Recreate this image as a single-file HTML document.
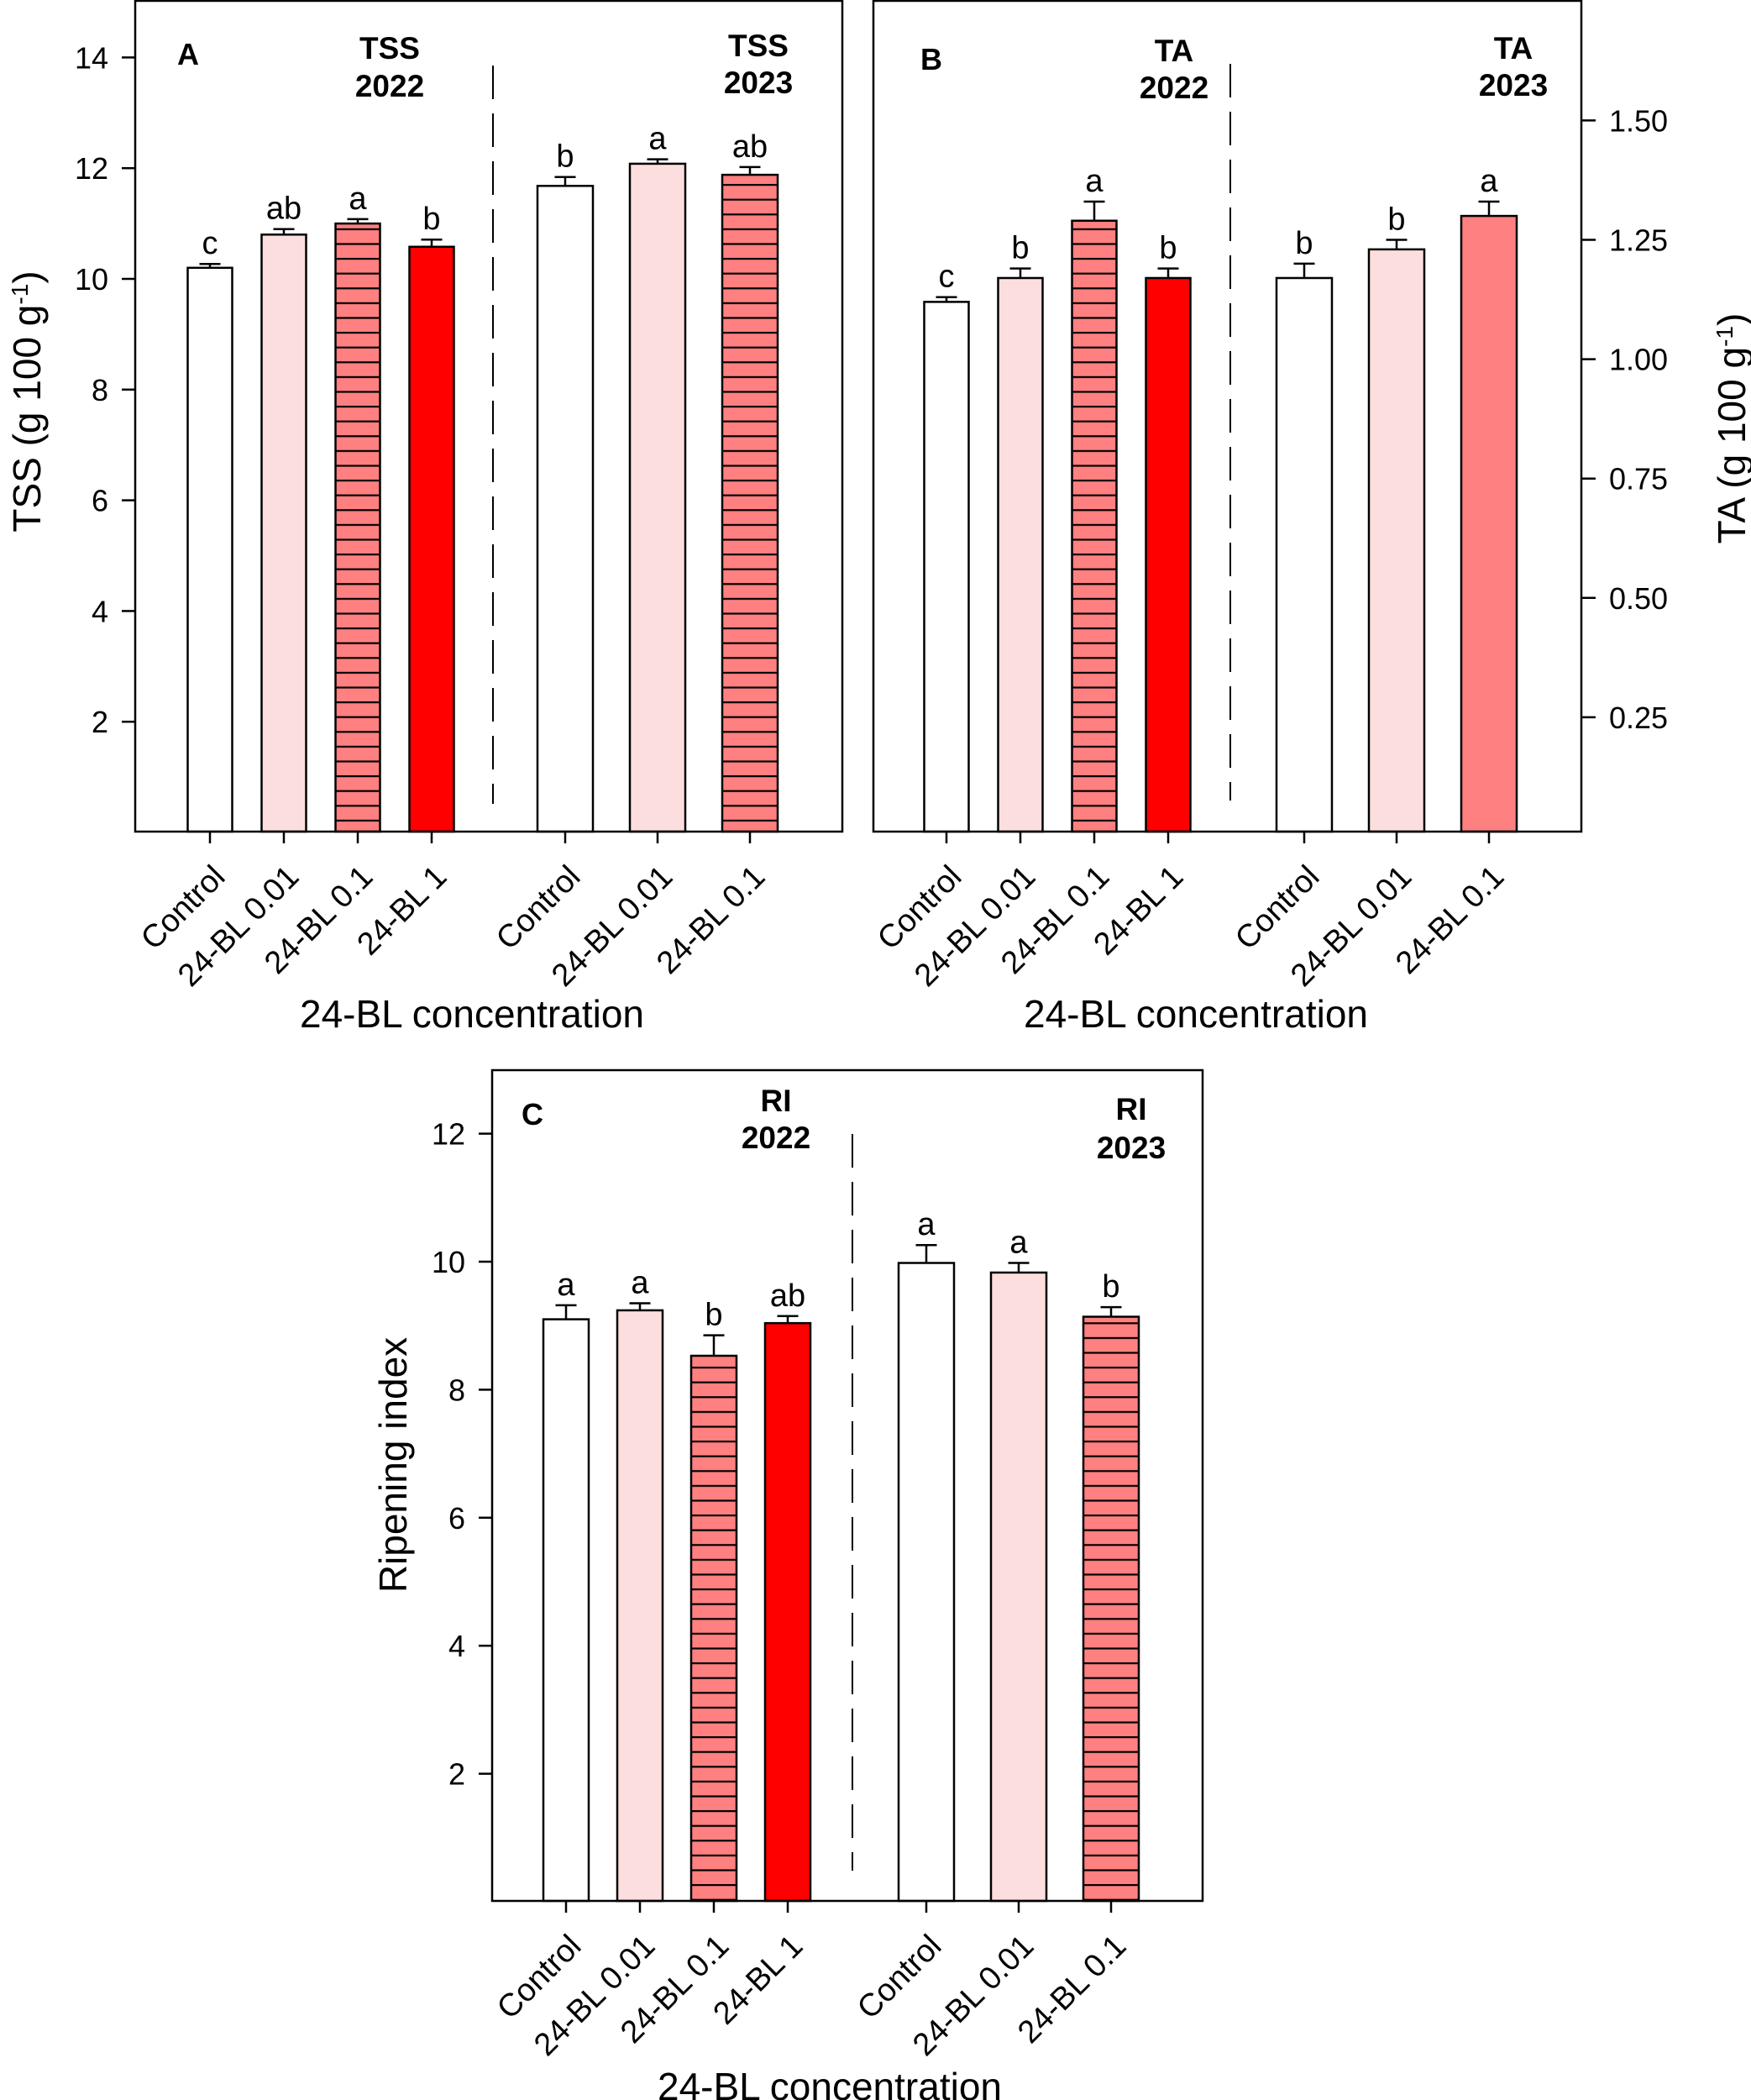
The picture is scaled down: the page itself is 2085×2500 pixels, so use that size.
<!DOCTYPE html>
<html><head><meta charset="utf-8"><style>
html,body{margin:0;padding:0;background:#fff;}
svg{display:block;font-family:"Liberation Sans",Arial,sans-serif;}
</style></head><body>
<svg id="fig" width="2085" height="2500" viewBox="0 0 2085 2500" xmlns="http://www.w3.org/2000/svg">
<defs>
<pattern id="hatch" patternUnits="userSpaceOnUse" width="20" height="17.6">
<rect width="20" height="17.6" fill="#FF8080"/>
<rect y="7.8" width="20" height="2.2" fill="#000"/>
</pattern>
</defs>
</svg>
<script>
// ---- data ----
const tssCats = ["Control","24-BL 0.01","24-BL 0.1","24-BL 1","Control","24-BL 0.01","24-BL 0.1"];
const tssMeans = [10.2, 10.8, 11.0, 10.58, 11.68, 12.08, 11.88];
const tssErr = [0.07, 0.1, 0.08, 0.13, 0.16, 0.08, 0.14];
const tssLetters = ["c","ab","a","b","b","a","ab"];
const tssTicks = [2,4,6,8,10,12,14];

const taCats = ["Control","24-BL 0.01","24-BL 0.1","24-BL 1","Control","24-BL 0.01","24-BL 0.1"];
const taMeans = [1.12, 1.17, 1.29, 1.17, 1.17, 1.23, 1.30];
const taErr = [0.01, 0.02, 0.04, 0.02, 0.03, 0.02, 0.03];
const taLetters = ["c","b","a","b","b","b","a"];
const taTicks = [0.25,0.50,0.75,1.00,1.25,1.50];

const riCats = ["Control","24-BL 0.01","24-BL 0.1","24-BL 1","Control","24-BL 0.01","24-BL 0.1"];
const riMeans = [9.1, 9.24, 8.53, 9.04, 9.98, 9.83, 9.14];
const riErr = [0.22, 0.11, 0.32, 0.11, 0.28, 0.15, 0.15];
const riLetters = ["a","a","b","ab","a","a","b"];
const riTicks = [2,4,6,8,10,12];

// ---- drawing ----
const svg = document.getElementById('fig');
const NS = 'http://www.w3.org/2000/svg';
function mk(tag, attrs, parent){
  const e = document.createElementNS(NS, tag);
  for (const k in attrs) e.setAttribute(k, attrs[k]);
  (parent||svg).appendChild(e);
  return e;
}
function txt(str, attrs, parent){
  const e = mk('text', attrs, parent);
  e.textContent = str;
  return e;
}

function panel(p){
  const g = mk('g', {});
  
  
  const y = v => p.y0 - v * p.k;
  const xc = i => i < 4 ? p.c1 + i * p.s1 : p.c2 + (i - 4) * p.s2;
  const bw = i => i < 4 ? p.w1 : p.w2;
  for (let i = 0; i < p.means.length; i++){
    const v = p.means[i], cx = xc(i), w = bw(i);
    const r = mk('rect', {x: cx - w/2, y: y(v), width: w, height: p.bottom - y(v), fill: p.fills[i], stroke: '#000', 'stroke-width': 2.5}, g);
    
    
    const top = y(v + p.err[i]);
    const eb = mk('path', {d: `M${cx},${y(v)}V${top}M${cx-12.5},${top}H${cx+12.5}`, stroke: '#000', 'stroke-width': 2.5, fill: 'none'}, g);
    
    
    const lt = txt(p.letters[i], {x: cx, y: top - 12, 'font-size': 38, 'text-anchor': 'middle'}, g);
    
    
    mk('line', {x1: cx, x2: cx, y1: p.bottom, y2: p.bottom + 14, stroke: '#000', 'stroke-width': 2.5}, g);
    const lx = cx + 20, ly = p.bottom + 56;
    const xl = txt(p.cats[i], {x: lx, y: ly, 'font-size': 38, 'text-anchor': 'end', transform: `rotate(-45 ${lx} ${ly})`}, g);
    
    
  }
  const fr = mk('rect', {x: p.left, y: p.top, width: p.right - p.left, height: p.bottom - p.top, fill: 'none', stroke: '#000', 'stroke-width': 2.5}, g);
  
  
  for (const t of p.ticks){
    const ty = y(t);
    if (p.rightAxis){
      mk('line', {x1: p.right, x2: p.right + 17, y1: ty, y2: ty, stroke: '#000', 'stroke-width': 2.5}, g);
      const tl = txt(p.fmt(t), {x: p.right + 33, y: ty + 13, 'font-size': 36, 'text-anchor': 'start'}, g);
      
      
    } else {
      mk('line', {x1: p.left - 16, x2: p.left, y1: ty, y2: ty, stroke: '#000', 'stroke-width': 2.5}, g);
      const tl = txt(p.fmt(t), {x: p.left - 32, y: ty + 13, 'font-size': 36, 'text-anchor': 'end'}, g);
      
      
    }
  }
  const dl = mk('line', {x1: p.dx, x2: p.dx, y1: p.dy1, y2: p.dy2, stroke: '#000', 'stroke-width': 2, 'stroke-dasharray': '40,17'}, g);
  
  
  const pl = txt(p.letter, {x: p.lx, y: p.ly + 13, 'font-size': 36, 'font-weight': 'bold', 'text-anchor': 'middle'}, g);
  
  
  for (const tt of p.titles){
    const t1 = txt(tt.a, {x: tt.x, y: tt.y1 + 13, 'font-size': 37, 'font-weight': 'bold', 'text-anchor': 'middle'}, g);
    
    
    const t2 = txt(tt.b, {x: tt.x, y: tt.y2 + 13, 'font-size': 37, 'font-weight': 'bold', 'text-anchor': 'middle'}, g);
    
    
  }
  const xt = txt('24-BL concentration', {x: p.xtx, y: p.xty, 'font-size': 46, 'text-anchor': 'middle'}, g);
  
  
  const yt = mk('text', {x: p.ytx, y: p.yty, 'font-size': 46, 'text-anchor': 'middle', transform: `rotate(-90 ${p.ytx} ${p.yty})`}, g);
  
  
  if (p.unit){
    yt.appendChild(document.createTextNode(p.ytitle + ' (g 100 g'));
    const sup = document.createElementNS(NS, 'tspan');
    sup.setAttribute('baseline-shift', 'super');
    sup.setAttribute('font-size', 28);
    sup.textContent = '-1';
    yt.appendChild(sup);
    const close = document.createElementNS(NS, 'tspan');
    close.textContent = ')';
    yt.appendChild(close);
  } else {
    yt.textContent = p.ytitle;
  }
}

const W = '#FFFFFF', P = '#FDDEDE', R = '#FF0000', H = 'url(#hatch)', S = '#FF8080';

panel({name: 'panel-a-tss', key: 'tss', cats: tssCats, means: tssMeans, err: tssErr, letters: tssLetters, ticks: tssTicks,
  fmt: t => String(t), fills: [W,P,H,R,W,P,H],
  left: 161, right: 1003, top: 1, bottom: 990, y0: 991, k: 65.9,
  c1: 250, s1: 88, w1: 53, c2: 673, s2: 110, w2: 66,
  dx: 587, dy1: 78, dy2: 957, letter: 'A', lx: 224, ly: 64,
  titles: [{a: 'TSS', b: '2022', x: 464, y1: 57, y2: 102}, {a: 'TSS', b: '2023', x: 903, y1: 54, y2: 98}],
  xtx: 562, xty: 1223, ytx: 48, yty: 478, ytitle: 'TSS', unit: true});

panel({name: 'panel-b-ta', key: 'ta', cats: taCats, means: taMeans, err: taErr, letters: taLetters, ticks: taTicks,
  fmt: t => t.toFixed(2), fills: [W,P,H,R,W,P,S], rightAxis: true,
  left: 1040, right: 1883, top: 1, bottom: 990, y0: 996, k: 568.4,
  c1: 1127, s1: 88, w1: 53, c2: 1553, s2: 110, w2: 66,
  dx: 1465, dy1: 76, dy2: 953, letter: 'B', lx: 1109, ly: 70,
  titles: [{a: 'TA', b: '2022', x: 1398, y1: 60, y2: 104}, {a: 'TA', b: '2023', x: 1802, y1: 57, y2: 101}],
  xtx: 1424, xty: 1223, ytx: 2078, yty: 510, ytitle: 'TA', unit: true});

panel({name: 'panel-c-ri', key: 'ri', cats: riCats, means: riMeans, err: riErr, letters: riLetters, ticks: riTicks,
  fmt: t => String(t), fills: [W,P,H,R,W,P,H],
  left: 586, right: 1432, top: 1274, bottom: 2263, y0: 2264, k: 76.2,
  c1: 674, s1: 88, w1: 54, c2: 1103, s2: 110, w2: 66,
  dx: 1015, dy1: 1350, dy2: 2227, letter: 'C', lx: 634, ly: 1326,
  titles: [{a: 'RI', b: '2022', x: 924, y1: 1310, y2: 1354}, {a: 'RI', b: '2023', x: 1347, y1: 1320, y2: 1366}],
  xtx: 988, xty: 2500, ytx: 484, yty: 1744, ytitle: 'Ripening index', unit: false});
</script>
</body></html>
